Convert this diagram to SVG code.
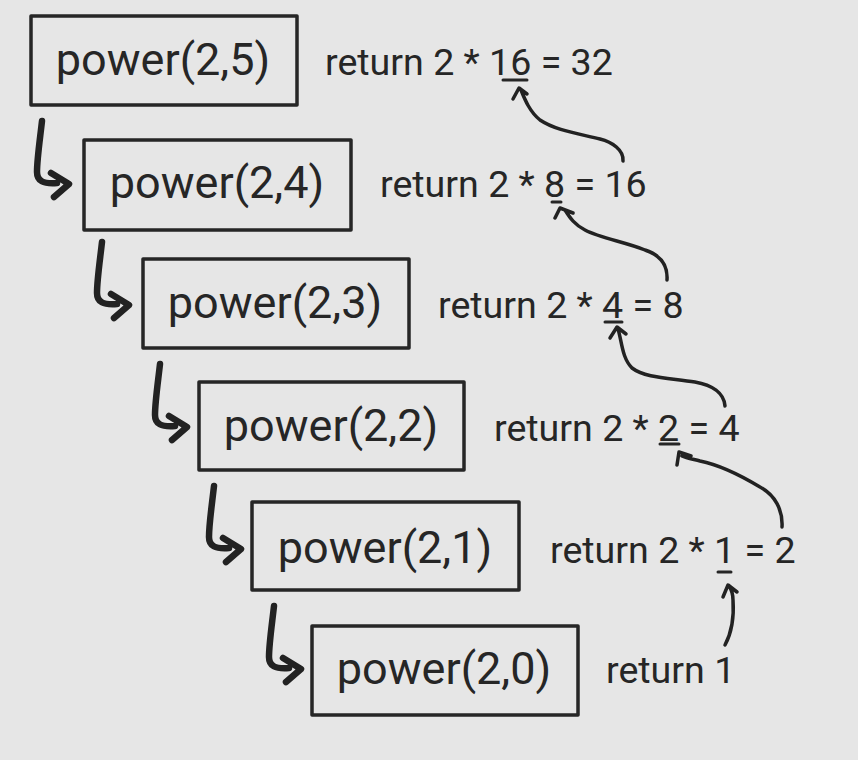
<svg xmlns="http://www.w3.org/2000/svg" width="858" height="760" viewBox="0 0 858 760">
<style>
.box{fill:none;stroke:#262626;stroke-width:3.5;stroke-linejoin:round}
.lbl{font-family:Roboto,"Liberation Sans",sans-serif;font-size:45px;fill:#262626;text-anchor:middle}
.ret{font-family:Roboto,"Liberation Sans",sans-serif;font-size:37.6px;fill:#262626}
.hook{fill:none;stroke:#222;stroke-width:6.5;stroke-linecap:round;stroke-linejoin:round}
.ret-arrow{fill:none;stroke:#222;stroke-width:3.5;stroke-linecap:round;stroke-linejoin:round}
.ul{stroke:#262626;stroke-width:3;stroke-linecap:round}
</style>
<defs>
<path id="hk" d="M-27,-63 C-29,-45 -32,-25 -32,-12 C-32,-3 -26,0 -12,-1 M-18,-11 L0,0 L-15,13"/>
</defs>
<rect width="858" height="760" fill="#e6e6e6"/>
<g id="node-p5"><rect class="box" x="31" y="16" width="266" height="89"/><text class="lbl" x="163" y="75">power(2,5)</text></g>
<g id="node-p4"><rect class="box" x="84" y="140" width="267" height="90"/><text class="lbl" x="217" y="198">power(2,4)</text></g>
<g id="node-p3"><rect class="box" x="143" y="259" width="266" height="89"/><text class="lbl" x="275" y="318">power(2,3)</text></g>
<g id="node-p2"><rect class="box" x="199" y="382" width="265" height="88"/><text class="lbl" x="331" y="441">power(2,2)</text></g>
<g id="node-p1"><rect class="box" x="252" y="502" width="267" height="88"/><text class="lbl" x="385" y="563">power(2,1)</text></g>
<g id="node-p0"><rect class="box" x="312" y="626" width="266" height="89"/><text class="lbl" x="444" y="684">power(2,0)</text></g>
<g id="returns">
<text class="ret" x="325" y="75">return 2 * 16 = 32</text>
<text class="ret" x="380" y="197">return 2 * 8 = 16</text>
<text class="ret" x="438" y="318">return 2 * 4 = 8</text>
<text class="ret" x="494" y="441">return 2 * 2 = 4</text>
<text class="ret" x="550" y="563">return 2 * 1 = 2</text>
<text class="ret" x="606" y="683">return 1</text>
<line class="ul" x1="503" y1="80" x2="527" y2="80"/>
<line class="ul" x1="552" y1="202" x2="561" y2="202"/>
<line class="ul" x1="605" y1="322" x2="622" y2="322"/>
<line class="ul" x1="660" y1="444" x2="679" y2="444"/>
<line class="ul" x1="718" y1="572" x2="731" y2="572"/>
</g>
<g id="connectors">
<use href="#hk" class="hook" transform="translate(69,184)"/>
<use href="#hk" class="hook" transform="translate(129,305)"/>
<use href="#hk" class="hook" transform="translate(187,427)"/>
<use href="#hk" class="hook" transform="translate(241,549)"/>
<use href="#hk" class="hook" transform="translate(301,669)"/>
<path class="ret-arrow" d="M623,161 C624,150 612,142 600,139 C575,133 555,130 540,120 C530,112 525,100 521,90 M513,99 L519,88 L527,94"/>
<path class="ret-arrow" d="M667,280 C668,265 660,255 645,250 C625,242 600,238 585,230 C575,225 570,218 565,210 M555,218 L560,208 L573,213"/>
<path class="ret-arrow" d="M725,406 C724,393 712,385 695,382 C670,378 645,378 632,368 C622,358 622,342 618,329 M610,338 L617,327 L626,334"/>
<path class="ret-arrow" d="M782,527 C783,510 775,495 760,487 C740,475 720,465 700,461 C692,459 686,458 682,456 M677,465 L679,452 L691,456"/>
<path class="ret-arrow" d="M725,645 C732,632 734,615 733,600 C733,593 731,589 729,586 M723,597 L728,585 L737,592"/>
</g>
</svg>
